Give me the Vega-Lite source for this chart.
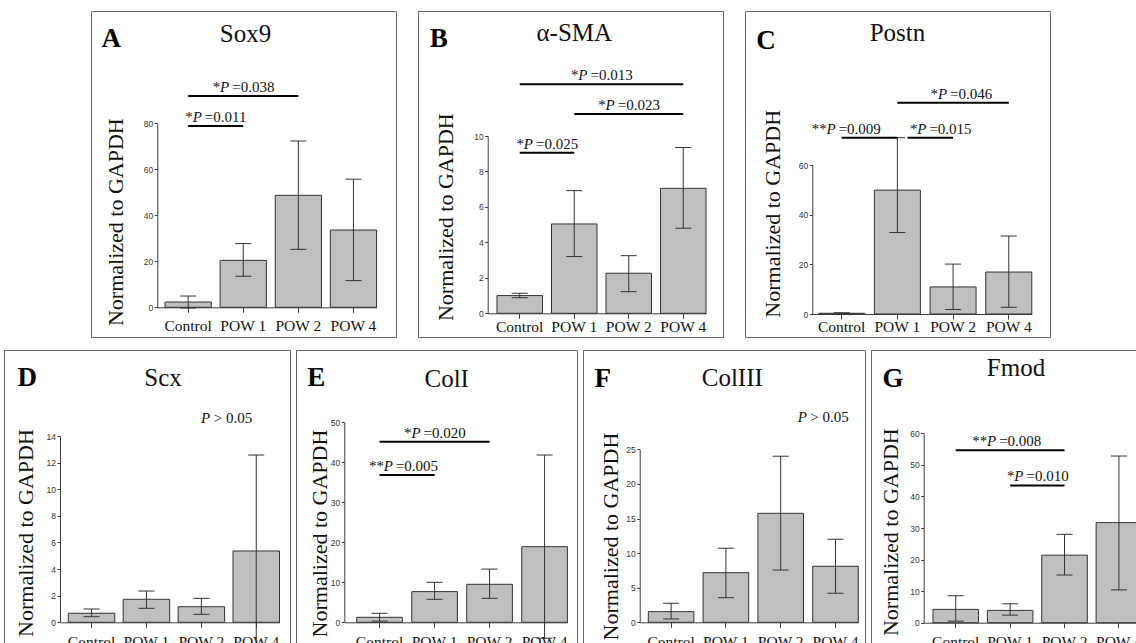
{
 "$schema": "https://vega.github.io/schema/vega-lite/v6.json",
 "background": "white",
 "padding": {"left": 3, "top": 10, "right": -16, "bottom": -8},
 "spacing": 11,
 "datasets": {
  "A_bars": [
   {"group": "Control", "mean": 2.3, "lo": -0.3, "hi": 4.9},
   {"group": "POW 1", "mean": 20.4, "lo": 13.5, "hi": 27.7},
   {"group": "POW 2", "mean": 48.7, "lo": 25.2, "hi": 72.3},
   {"group": "POW 4", "mean": 33.6, "lo": 11.6, "hi": 55.7}
  ],
  "A_notes": [
   {"from": "Control", "to": "POW 2", "level": 91.9, "stars": "*", "ptext": "=0.038", "over": "POW 1"},
   {"from": "Control", "to": "POW 1", "level": 78.8, "stars": "*", "ptext": "=0.011", "after": "Control"}
  ],
  "B_bars": [
   {"group": "Control", "mean": 1.0, "lo": 0.88, "hi": 1.13},
   {"group": "POW 1", "mean": 5.04, "lo": 3.2, "hi": 6.92},
   {"group": "POW 2", "mean": 2.26, "lo": 1.22, "hi": 3.25},
   {"group": "POW 4", "mean": 7.05, "lo": 4.8, "hi": 9.35}
  ],
  "B_notes": [
   {"from": "Control", "to": "POW 4", "level": 12.92, "stars": "*", "ptext": "=0.013", "after": "POW 1"},
   {"from": "POW 1", "to": "POW 4", "level": 11.24, "stars": "*", "ptext": "=0.023", "over": "POW 2"},
   {"from": "Control", "to": "POW 1", "level": 9.06, "stars": "*", "ptext": "=0.025", "after": "Control"}
  ],
  "C_bars": [
   {"group": "Control", "mean": 0.3, "lo": 0.1, "hi": 0.5},
   {"group": "POW 1", "mean": 49.9, "lo": 32.8, "hi": 71.0},
   {"group": "POW 2", "mean": 10.9, "lo": 1.8, "hi": 20.1},
   {"group": "POW 4", "mean": 16.9, "lo": 2.7, "hi": 31.4}
  ],
  "C_notes": [
   {"from": "Control", "to": "POW 1", "level": 71.0, "stars": "**", "ptext": "=0.009", "over": "Control"},
   {"from": "POW 1", "to": "POW 2", "level": 71.0, "stars": "*", "ptext": "=0.015", "after": "POW 1"},
   {"from": "POW 1", "to": "POW 4", "level": 85.1, "stars": "*", "ptext": "=0.046", "over": "POW 2"}
  ],
  "D_bars": [
   {"group": "Control", "mean": 0.68, "lo": 0.42, "hi": 1.0},
   {"group": "POW 1", "mean": 1.73, "lo": 1.05, "hi": 2.35},
   {"group": "POW 2", "mean": 1.17, "lo": 0.6, "hi": 1.8},
   {"group": "POW 4", "mean": 5.36, "lo": -1.85, "hi": 12.57}
  ],
  "D_notes": [{"over": "POW 4", "level": 15.0, "ptext": "> 0.05"}],
  "E_bars": [
   {"group": "Control", "mean": 1.25, "lo": 0.3, "hi": 2.25},
   {"group": "POW 1", "mean": 7.67, "lo": 5.75, "hi": 10.0},
   {"group": "POW 2", "mean": 9.5, "lo": 6.0, "hi": 13.3},
   {"group": "POW 4", "mean": 18.9, "lo": -4.0, "hi": 41.8}
  ],
  "E_notes": [
   {"from": "Control", "to": "POW 2", "level": 45.15, "stars": "*", "ptext": "=0.020", "over": "POW 1"},
   {"from": "Control", "to": "POW 1", "level": 36.8, "stars": "**", "ptext": "=0.005", "after": "Control"}
  ],
  "F_bars": [
   {"group": "Control", "mean": 1.54, "lo": 0.48, "hi": 2.75},
   {"group": "POW 1", "mean": 7.17, "lo": 3.56, "hi": 10.7},
   {"group": "POW 2", "mean": 15.75, "lo": 7.55, "hi": 24.0},
   {"group": "POW 4", "mean": 8.1, "lo": 4.2, "hi": 12.0}
  ],
  "F_notes": [{"over": "POW 4", "level": 28.9, "ptext": "> 0.05"}],
  "G_bars": [
   {"group": "Control", "mean": 4.22, "lo": 0.5, "hi": 8.55},
   {"group": "POW 1", "mean": 3.9, "lo": 2.4, "hi": 6.0},
   {"group": "POW 2", "mean": 21.4, "lo": 15.1, "hi": 28.0},
   {"group": "POW 4", "mean": 31.7, "lo": 10.4, "hi": 52.8}
  ],
  "G_notes": [
   {"from": "Control", "to": "POW 2", "level": 54.6, "stars": "**", "ptext": "=0.008", "over": "POW 1"},
   {"from": "POW 1", "to": "POW 2", "level": 43.5, "stars": "*", "ptext": "=0.010", "after": "POW 1"}
  ]
 },
 "vconcat": [
  {
   "spacing": 20,
   "hconcat": [
    {"width": 66, "height": 326, "view": {"stroke": null}, "data": {"values": []}, "mark": "point"},
    {
     "width": 305, "height": 326,
     "title": {"text": "Sox9", "dx": 2, "offset": -36.3},
     "layer": [
      {"data": {"name": "A_bars"}, "mark": {"type": "bar", "fill": "#bfbfbf", "stroke": "#333", "strokeWidth": 1, "clip": true},
       "encoding": {
        "x": {"field": "group", "type": "nominal", "scale": {"type": "band", "domain": ["Control", "POW 1", "POW 2", "POW 4"], "range": [66.3, 285.6], "paddingInner": 0.16, "paddingOuter": 0.07, "align": 1},
              "axis": {"title": "A", "titleX": 10, "titleY": -260.5, "offset": -29.7, "labelPadding": 17.7}},
        "y": {"field": "mean", "type": "quantitative", "scale": {"domain": [0, 80], "range": [296.3, 112.3], "nice": false, "zero": false},
              "axis": {"title": "Normalized to GAPDH", "values": [0, 20, 40, 60, 80], "offset": -66.3, "titleX": -35, "titleY": 210.7}}}},
      {"data": {"name": "A_bars"}, "mark": {"type": "rule", "color": "#333", "strokeWidth": 1, "clip": true},
       "encoding": {"x": {"field": "group", "type": "nominal"}, "y": {"field": "lo", "type": "quantitative"}, "y2": {"field": "hi"}}},
      {"data": {"name": "A_bars"}, "mark": {"type": "tick", "color": "#333", "thickness": 1, "size": 16, "opacity": 1, "clip": true},
       "encoding": {"x": {"field": "group", "type": "nominal"}, "y": {"field": "hi", "type": "quantitative"}}},
      {"data": {"name": "A_bars"}, "mark": {"type": "tick", "color": "#333", "thickness": 1, "size": 16, "opacity": 1, "clip": true},
       "encoding": {"x": {"field": "group", "type": "nominal"}, "y": {"field": "lo", "type": "quantitative"}}},
      {"data": {"name": "A_notes"}, "mark": {"type": "rule", "color": "#000", "strokeWidth": 2},
       "encoding": {"x": {"field": "from", "type": "nominal"}, "x2": {"field": "to"}, "y": {"field": "level", "type": "quantitative"}}},
      {"data": {"name": "A_notes"}, "transform": [{"filter": "isValid(datum.over)"}], "mark": {"type": "text", "align": "left", "dx": -11, "dy": -4},
       "encoding": {"x": {"field": "over", "type": "nominal"}, "y": {"field": "level", "type": "quantitative"}, "text": {"field": "ptext"}}},
      {"data": {"name": "A_notes"}, "transform": [{"filter": "isValid(datum.over)"}], "mark": {"type": "text", "align": "right", "dx": -14, "dy": -4, "fontStyle": "italic"},
       "encoding": {"x": {"field": "over", "type": "nominal"}, "y": {"field": "level", "type": "quantitative"}, "text": {"value": "P"}}},
      {"data": {"name": "A_notes"}, "transform": [{"filter": "isValid(datum.over)"}], "mark": {"type": "text", "align": "right", "dx": -23, "dy": -4},
       "encoding": {"x": {"field": "over", "type": "nominal"}, "y": {"field": "level", "type": "quantitative"}, "text": {"field": "stars"}}},
      {"data": {"name": "A_notes"}, "transform": [{"filter": "isValid(datum.after)"}], "mark": {"type": "text", "align": "left", "dx": -6.5, "dy": -4},
       "encoding": {"x": {"field": "after", "type": "nominal", "bandPosition": 1}, "y": {"field": "level", "type": "quantitative"}, "text": {"field": "ptext"}}},
      {"data": {"name": "A_notes"}, "transform": [{"filter": "isValid(datum.after)"}], "mark": {"type": "text", "align": "right", "dx": -9.5, "dy": -4, "fontStyle": "italic"},
       "encoding": {"x": {"field": "after", "type": "nominal", "bandPosition": 1}, "y": {"field": "level", "type": "quantitative"}, "text": {"value": "P"}}},
      {"data": {"name": "A_notes"}, "transform": [{"filter": "isValid(datum.after)"}], "mark": {"type": "text", "align": "right", "dx": -18.5, "dy": -4},
       "encoding": {"x": {"field": "after", "type": "nominal", "bandPosition": 1}, "y": {"field": "level", "type": "quantitative"}, "text": {"field": "stars"}}}
     ]
    },
    {
     "width": 305, "height": 326,
     "title": {"text": "α-SMA", "dx": 3.8, "offset": -34.7},
     "layer": [
      {"data": {"name": "B_bars"}, "mark": {"type": "bar", "fill": "#bfbfbf", "stroke": "#333", "strokeWidth": 1, "clip": true},
       "encoding": {
        "x": {"field": "group", "type": "nominal", "scale": {"type": "band", "domain": ["Control", "POW 1", "POW 2", "POW 4"], "range": [69.7, 288], "paddingInner": 0.165, "paddingOuter": 0.085, "align": 1},
              "axis": {"title": "B", "titleX": 11.3, "titleY": -266.5, "offset": -23.7, "labelPadding": 12.7}},
        "y": {"field": "mean", "type": "quantitative", "scale": {"domain": [0, 10], "range": [302.3, 125], "nice": false, "zero": false},
              "axis": {"title": "Normalized to GAPDH", "values": [0, 2, 4, 6, 8, 10], "offset": -69.7, "titleX": -35, "titleY": 205.7}}}},
      {"data": {"name": "B_bars"}, "mark": {"type": "rule", "color": "#333", "strokeWidth": 1, "clip": true},
       "encoding": {"x": {"field": "group", "type": "nominal"}, "y": {"field": "lo", "type": "quantitative"}, "y2": {"field": "hi"}}},
      {"data": {"name": "B_bars"}, "mark": {"type": "tick", "color": "#333", "thickness": 1, "size": 16, "opacity": 1, "clip": true},
       "encoding": {"x": {"field": "group", "type": "nominal"}, "y": {"field": "hi", "type": "quantitative"}}},
      {"data": {"name": "B_bars"}, "mark": {"type": "tick", "color": "#333", "thickness": 1, "size": 16, "opacity": 1, "clip": true},
       "encoding": {"x": {"field": "group", "type": "nominal"}, "y": {"field": "lo", "type": "quantitative"}}},
      {"data": {"name": "B_notes"}, "mark": {"type": "rule", "color": "#000", "strokeWidth": 2},
       "encoding": {"x": {"field": "from", "type": "nominal"}, "x2": {"field": "to"}, "y": {"field": "level", "type": "quantitative"}}},
      {"data": {"name": "B_notes"}, "transform": [{"filter": "isValid(datum.over)"}], "mark": {"type": "text", "align": "left", "dx": -11, "dy": -4},
       "encoding": {"x": {"field": "over", "type": "nominal"}, "y": {"field": "level", "type": "quantitative"}, "text": {"field": "ptext"}}},
      {"data": {"name": "B_notes"}, "transform": [{"filter": "isValid(datum.over)"}], "mark": {"type": "text", "align": "right", "dx": -14, "dy": -4, "fontStyle": "italic"},
       "encoding": {"x": {"field": "over", "type": "nominal"}, "y": {"field": "level", "type": "quantitative"}, "text": {"value": "P"}}},
      {"data": {"name": "B_notes"}, "transform": [{"filter": "isValid(datum.over)"}], "mark": {"type": "text", "align": "right", "dx": -23, "dy": -4},
       "encoding": {"x": {"field": "over", "type": "nominal"}, "y": {"field": "level", "type": "quantitative"}, "text": {"field": "stars"}}},
      {"data": {"name": "B_notes"}, "transform": [{"filter": "isValid(datum.after)"}], "mark": {"type": "text", "align": "left", "dx": -6.5, "dy": -4},
       "encoding": {"x": {"field": "after", "type": "nominal", "bandPosition": 1}, "y": {"field": "level", "type": "quantitative"}, "text": {"field": "ptext"}}},
      {"data": {"name": "B_notes"}, "transform": [{"filter": "isValid(datum.after)"}], "mark": {"type": "text", "align": "right", "dx": -9.5, "dy": -4, "fontStyle": "italic"},
       "encoding": {"x": {"field": "after", "type": "nominal", "bandPosition": 1}, "y": {"field": "level", "type": "quantitative"}, "text": {"value": "P"}}},
      {"data": {"name": "B_notes"}, "transform": [{"filter": "isValid(datum.after)"}], "mark": {"type": "text", "align": "right", "dx": -18.5, "dy": -4},
       "encoding": {"x": {"field": "after", "type": "nominal", "bandPosition": 1}, "y": {"field": "level", "type": "quantitative"}, "text": {"field": "stars"}}}
     ]
    },
    {
     "width": 305, "height": 326,
     "title": {"text": "Postn", "dx": 0, "offset": -34.7},
     "layer": [
      {"data": {"name": "C_bars"}, "mark": {"type": "bar", "fill": "#bfbfbf", "stroke": "#333", "strokeWidth": 1, "clip": true},
       "encoding": {
        "x": {"field": "group", "type": "nominal", "scale": {"type": "band", "domain": ["Control", "POW 1", "POW 2", "POW 4"], "range": [67.3, 286.8], "paddingInner": 0.174, "paddingOuter": 0.057, "align": 1},
              "axis": {"title": "C", "titleX": 10.7, "titleY": -265.5, "offset": -23, "labelPadding": 12.7}},
        "y": {"field": "mean", "type": "quantitative", "scale": {"domain": [0, 60], "range": [303, 154], "nice": false, "zero": false},
              "axis": {"title": "Normalized to GAPDH", "values": [0, 20, 40, 60], "offset": -67.3, "titleX": -33.3, "titleY": 202.3}}}},
      {"data": {"name": "C_bars"}, "mark": {"type": "rule", "color": "#333", "strokeWidth": 1, "clip": true},
       "encoding": {"x": {"field": "group", "type": "nominal"}, "y": {"field": "lo", "type": "quantitative"}, "y2": {"field": "hi"}}},
      {"data": {"name": "C_bars"}, "mark": {"type": "tick", "color": "#333", "thickness": 1, "size": 16, "opacity": 1, "clip": true},
       "encoding": {"x": {"field": "group", "type": "nominal"}, "y": {"field": "hi", "type": "quantitative"}}},
      {"data": {"name": "C_bars"}, "mark": {"type": "tick", "color": "#333", "thickness": 1, "size": 16, "opacity": 1, "clip": true},
       "encoding": {"x": {"field": "group", "type": "nominal"}, "y": {"field": "lo", "type": "quantitative"}}},
      {"data": {"name": "C_notes"}, "transform": [{"filter": "isValid(datum.over)"}], "mark": {"type": "rule", "color": "#000", "strokeWidth": 2},
       "encoding": {"x": {"field": "from", "type": "nominal"}, "x2": {"field": "to"}, "y": {"field": "level", "type": "quantitative"}}},
      {"data": {"name": "C_notes"}, "transform": [{"filter": "isValid(datum.after)"}], "mark": {"type": "rule", "color": "#000", "strokeWidth": 2},
       "encoding": {"x": {"field": "from", "type": "nominal", "bandPosition": 0.72}, "x2": {"field": "to"}, "y": {"field": "level", "type": "quantitative"}}},
      {"data": {"name": "C_notes"}, "transform": [{"filter": "isValid(datum.over)"}], "mark": {"type": "text", "align": "left", "dx": -3, "dy": -4},
       "encoding": {"x": {"field": "over", "type": "nominal"}, "y": {"field": "level", "type": "quantitative"}, "text": {"field": "ptext"}}},
      {"data": {"name": "C_notes"}, "transform": [{"filter": "isValid(datum.over)"}], "mark": {"type": "text", "align": "right", "dx": -6, "dy": -4, "fontStyle": "italic"},
       "encoding": {"x": {"field": "over", "type": "nominal"}, "y": {"field": "level", "type": "quantitative"}, "text": {"value": "P"}}},
      {"data": {"name": "C_notes"}, "transform": [{"filter": "isValid(datum.over)"}], "mark": {"type": "text", "align": "right", "dx": -15, "dy": -4},
       "encoding": {"x": {"field": "over", "type": "nominal"}, "y": {"field": "level", "type": "quantitative"}, "text": {"field": "stars"}}},
      {"data": {"name": "C_notes"}, "transform": [{"filter": "isValid(datum.after)"}], "mark": {"type": "text", "align": "left", "dx": 9, "dy": -4},
       "encoding": {"x": {"field": "after", "type": "nominal", "bandPosition": 1}, "y": {"field": "level", "type": "quantitative"}, "text": {"field": "ptext"}}},
      {"data": {"name": "C_notes"}, "transform": [{"filter": "isValid(datum.after)"}], "mark": {"type": "text", "align": "right", "dx": 6, "dy": -4, "fontStyle": "italic"},
       "encoding": {"x": {"field": "after", "type": "nominal", "bandPosition": 1}, "y": {"field": "level", "type": "quantitative"}, "text": {"value": "P"}}},
      {"data": {"name": "C_notes"}, "transform": [{"filter": "isValid(datum.after)"}], "mark": {"type": "text", "align": "right", "dx": -3, "dy": -4},
       "encoding": {"x": {"field": "after", "type": "nominal", "bandPosition": 1}, "y": {"field": "level", "type": "quantitative"}, "text": {"field": "stars"}}}
     ]
    }
   ]
  },
  {
   "spacing": 4,
   "hconcat": [
    {
     "width": 286, "height": 293,
     "title": {"text": "Scx", "dx": 16, "offset": -40.7},
     "layer": [
      {"data": {"name": "D_bars"}, "mark": {"type": "bar", "fill": "#bfbfbf", "stroke": "#333", "strokeWidth": 1, "clip": true},
       "encoding": {
        "x": {"field": "group", "type": "nominal", "scale": {"type": "band", "domain": ["Control", "POW 1", "POW 2", "POW 4"], "range": [56, 275.5], "paddingInner": 0.153, "paddingOuter": 0.0756, "align": 1},
              "axis": {"title": "D", "titleX": 13, "titleY": -237, "offset": -20.7, "labelPadding": 19}},
        "y": {"field": "mean", "type": "quantitative", "scale": {"domain": [0, 14], "range": [272.3, 86], "nice": false, "zero": false},
              "axis": {"title": "Normalized to GAPDH", "values": [0, 2, 4, 6, 8, 10, 12, 14], "offset": -56, "titleX": -27.7, "titleY": 182.5}}}},
      {"data": {"name": "D_bars"}, "mark": {"type": "rule", "color": "#333", "strokeWidth": 1, "clip": true},
       "encoding": {"x": {"field": "group", "type": "nominal"}, "y": {"field": "lo", "type": "quantitative"}, "y2": {"field": "hi"}}},
      {"data": {"name": "D_bars"}, "mark": {"type": "tick", "color": "#333", "thickness": 1, "size": 16, "opacity": 1, "clip": true},
       "encoding": {"x": {"field": "group", "type": "nominal"}, "y": {"field": "hi", "type": "quantitative"}}},
      {"data": {"name": "D_bars"}, "mark": {"type": "tick", "color": "#333", "thickness": 1, "size": 16, "opacity": 1, "clip": true},
       "encoding": {"x": {"field": "group", "type": "nominal"}, "y": {"field": "lo", "type": "quantitative"}}},
      {"data": {"name": "D_notes"}, "mark": {"type": "text", "align": "left", "dx": -42.4},
       "encoding": {"x": {"field": "over", "type": "nominal"}, "y": {"field": "level", "type": "quantitative"}, "text": {"field": "ptext"}}},
      {"data": {"name": "D_notes"}, "mark": {"type": "text", "align": "right", "dx": -46, "fontStyle": "italic"},
       "encoding": {"x": {"field": "over", "type": "nominal"}, "y": {"field": "level", "type": "quantitative"}, "text": {"value": "P"}}}
     ]
    },
    {
     "width": 281, "height": 293,
     "title": {"text": "ColI", "dx": 10.2, "offset": -42.3},
     "layer": [
      {"data": {"name": "E_bars"}, "mark": {"type": "bar", "fill": "#bfbfbf", "stroke": "#333", "strokeWidth": 1, "clip": true},
       "encoding": {
        "x": {"field": "group", "type": "nominal", "scale": {"type": "band", "domain": ["Control", "POW 1", "POW 2", "POW 4"], "range": [48.3, 271.4], "paddingInner": 0.17, "paddingOuter": 0.113, "align": 1},
              "axis": {"title": "E", "titleX": 10.7, "titleY": -237, "offset": -20.7, "labelPadding": 19}},
        "y": {"field": "mean", "type": "quantitative", "scale": {"domain": [0, 50], "range": [272.3, 72.3], "nice": false, "zero": false},
              "axis": {"title": "Normalized to GAPDH", "values": [0, 10, 20, 30, 40, 50], "offset": -48.3, "titleX": -17.6, "titleY": 183}}}},
      {"data": {"name": "E_bars"}, "mark": {"type": "rule", "color": "#333", "strokeWidth": 1, "clip": true},
       "encoding": {"x": {"field": "group", "type": "nominal"}, "y": {"field": "lo", "type": "quantitative"}, "y2": {"field": "hi"}}},
      {"data": {"name": "E_bars"}, "mark": {"type": "tick", "color": "#333", "thickness": 1, "size": 16, "opacity": 1, "clip": true},
       "encoding": {"x": {"field": "group", "type": "nominal"}, "y": {"field": "hi", "type": "quantitative"}}},
      {"data": {"name": "E_bars"}, "mark": {"type": "tick", "color": "#333", "thickness": 1, "size": 16, "opacity": 1, "clip": true},
       "encoding": {"x": {"field": "group", "type": "nominal"}, "y": {"field": "lo", "type": "quantitative"}}},
      {"data": {"name": "E_notes"}, "mark": {"type": "rule", "color": "#000", "strokeWidth": 2},
       "encoding": {"x": {"field": "from", "type": "nominal"}, "x2": {"field": "to"}, "y": {"field": "level", "type": "quantitative"}}},
      {"data": {"name": "E_notes"}, "transform": [{"filter": "isValid(datum.over)"}], "mark": {"type": "text", "align": "left", "dx": -11, "dy": -4},
       "encoding": {"x": {"field": "over", "type": "nominal"}, "y": {"field": "level", "type": "quantitative"}, "text": {"field": "ptext"}}},
      {"data": {"name": "E_notes"}, "transform": [{"filter": "isValid(datum.over)"}], "mark": {"type": "text", "align": "right", "dx": -14, "dy": -4, "fontStyle": "italic"},
       "encoding": {"x": {"field": "over", "type": "nominal"}, "y": {"field": "level", "type": "quantitative"}, "text": {"value": "P"}}},
      {"data": {"name": "E_notes"}, "transform": [{"filter": "isValid(datum.over)"}], "mark": {"type": "text", "align": "right", "dx": -23, "dy": -4},
       "encoding": {"x": {"field": "over", "type": "nominal"}, "y": {"field": "level", "type": "quantitative"}, "text": {"field": "stars"}}},
      {"data": {"name": "E_notes"}, "transform": [{"filter": "isValid(datum.after)"}], "mark": {"type": "text", "align": "left", "dx": -6.5, "dy": -4},
       "encoding": {"x": {"field": "after", "type": "nominal", "bandPosition": 1}, "y": {"field": "level", "type": "quantitative"}, "text": {"field": "ptext"}}},
      {"data": {"name": "E_notes"}, "transform": [{"filter": "isValid(datum.after)"}], "mark": {"type": "text", "align": "right", "dx": -9.5, "dy": -4, "fontStyle": "italic"},
       "encoding": {"x": {"field": "after", "type": "nominal", "bandPosition": 1}, "y": {"field": "level", "type": "quantitative"}, "text": {"value": "P"}}},
      {"data": {"name": "E_notes"}, "transform": [{"filter": "isValid(datum.after)"}], "mark": {"type": "text", "align": "right", "dx": -18.5, "dy": -4},
       "encoding": {"x": {"field": "after", "type": "nominal", "bandPosition": 1}, "y": {"field": "level", "type": "quantitative"}, "text": {"field": "stars"}}}
     ]
    },
    {
     "width": 282, "height": 293,
     "title": {"text": "ColIII", "dx": 8.3, "offset": -40.7},
     "layer": [
      {"data": {"name": "F_bars"}, "mark": {"type": "bar", "fill": "#bfbfbf", "stroke": "#333", "strokeWidth": 1, "clip": true},
       "encoding": {
        "x": {"field": "group", "type": "nominal", "scale": {"type": "band", "domain": ["Control", "POW 1", "POW 2", "POW 4"], "range": [56.7, 275.3], "paddingInner": 0.168, "paddingOuter": 0.0785, "align": 1},
              "axis": {"title": "F", "titleX": 11, "titleY": -236, "offset": -20.7, "labelPadding": 19}},
        "y": {"field": "mean", "type": "quantitative", "scale": {"domain": [0, 25], "range": [272.3, 99.3], "nice": false, "zero": false},
              "axis": {"title": "Normalized to GAPDH", "values": [0, 5, 10, 15, 20, 25], "offset": -56.7, "titleX": -22.7, "titleY": 186}}}},
      {"data": {"name": "F_bars"}, "mark": {"type": "rule", "color": "#333", "strokeWidth": 1, "clip": true},
       "encoding": {"x": {"field": "group", "type": "nominal"}, "y": {"field": "lo", "type": "quantitative"}, "y2": {"field": "hi"}}},
      {"data": {"name": "F_bars"}, "mark": {"type": "tick", "color": "#333", "thickness": 1, "size": 16, "opacity": 1, "clip": true},
       "encoding": {"x": {"field": "group", "type": "nominal"}, "y": {"field": "hi", "type": "quantitative"}}},
      {"data": {"name": "F_bars"}, "mark": {"type": "tick", "color": "#333", "thickness": 1, "size": 16, "opacity": 1, "clip": true},
       "encoding": {"x": {"field": "group", "type": "nominal"}, "y": {"field": "lo", "type": "quantitative"}}},
      {"data": {"name": "F_notes"}, "mark": {"type": "text", "align": "left", "dx": -25.2},
       "encoding": {"x": {"field": "over", "type": "nominal"}, "y": {"field": "level", "type": "quantitative"}, "text": {"field": "ptext"}}},
      {"data": {"name": "F_notes"}, "mark": {"type": "text", "align": "right", "dx": -28.7, "fontStyle": "italic"},
       "encoding": {"x": {"field": "over", "type": "nominal"}, "y": {"field": "level", "type": "quantitative"}, "text": {"value": "P"}}}
     ]
    },
    {
     "width": 282, "height": 293,
     "title": {"text": "Fmod", "dx": 4, "offset": -30.7},
     "layer": [
      {"data": {"name": "G_bars"}, "mark": {"type": "bar", "fill": "#bfbfbf", "stroke": "#333", "strokeWidth": 1, "clip": true},
       "encoding": {
        "x": {"field": "group", "type": "nominal", "scale": {"type": "band", "domain": ["Control", "POW 1", "POW 2", "POW 4"], "range": [52.7, 270.7], "paddingInner": 0.162, "paddingOuter": 0.085, "align": 1},
              "axis": {"title": "G", "titleX": 11, "titleY": -235.8, "offset": -20.3, "labelPadding": 19}},
        "y": {"field": "mean", "type": "quantitative", "scale": {"domain": [0, 60], "range": [272.7, 83.3], "nice": false, "zero": false},
              "axis": {"title": "Normalized to GAPDH", "values": [0, 10, 20, 30, 40, 50, 60], "offset": -52.7, "titleX": -26.7, "titleY": 181.7}}}},
      {"data": {"name": "G_bars"}, "mark": {"type": "rule", "color": "#333", "strokeWidth": 1, "clip": true},
       "encoding": {"x": {"field": "group", "type": "nominal"}, "y": {"field": "lo", "type": "quantitative"}, "y2": {"field": "hi"}}},
      {"data": {"name": "G_bars"}, "mark": {"type": "tick", "color": "#333", "thickness": 1, "size": 16, "opacity": 1, "clip": true},
       "encoding": {"x": {"field": "group", "type": "nominal"}, "y": {"field": "hi", "type": "quantitative"}}},
      {"data": {"name": "G_bars"}, "mark": {"type": "tick", "color": "#333", "thickness": 1, "size": 16, "opacity": 1, "clip": true},
       "encoding": {"x": {"field": "group", "type": "nominal"}, "y": {"field": "lo", "type": "quantitative"}}},
      {"data": {"name": "G_notes"}, "mark": {"type": "rule", "color": "#000", "strokeWidth": 2},
       "encoding": {"x": {"field": "from", "type": "nominal"}, "x2": {"field": "to"}, "y": {"field": "level", "type": "quantitative"}}},
      {"data": {"name": "G_notes"}, "transform": [{"filter": "isValid(datum.over)"}], "mark": {"type": "text", "align": "left", "dx": -11, "dy": -4},
       "encoding": {"x": {"field": "over", "type": "nominal"}, "y": {"field": "level", "type": "quantitative"}, "text": {"field": "ptext"}}},
      {"data": {"name": "G_notes"}, "transform": [{"filter": "isValid(datum.over)"}], "mark": {"type": "text", "align": "right", "dx": -14, "dy": -4, "fontStyle": "italic"},
       "encoding": {"x": {"field": "over", "type": "nominal"}, "y": {"field": "level", "type": "quantitative"}, "text": {"value": "P"}}},
      {"data": {"name": "G_notes"}, "transform": [{"filter": "isValid(datum.over)"}], "mark": {"type": "text", "align": "right", "dx": -23, "dy": -4},
       "encoding": {"x": {"field": "over", "type": "nominal"}, "y": {"field": "level", "type": "quantitative"}, "text": {"field": "stars"}}},
      {"data": {"name": "G_notes"}, "transform": [{"filter": "isValid(datum.after)"}], "mark": {"type": "text", "align": "left", "dx": -6.5, "dy": -4},
       "encoding": {"x": {"field": "after", "type": "nominal", "bandPosition": 1}, "y": {"field": "level", "type": "quantitative"}, "text": {"field": "ptext"}}},
      {"data": {"name": "G_notes"}, "transform": [{"filter": "isValid(datum.after)"}], "mark": {"type": "text", "align": "right", "dx": -9.5, "dy": -4, "fontStyle": "italic"},
       "encoding": {"x": {"field": "after", "type": "nominal", "bandPosition": 1}, "y": {"field": "level", "type": "quantitative"}, "text": {"value": "P"}}},
      {"data": {"name": "G_notes"}, "transform": [{"filter": "isValid(datum.after)"}], "mark": {"type": "text", "align": "right", "dx": -18.5, "dy": -4},
       "encoding": {"x": {"field": "after", "type": "nominal", "bandPosition": 1}, "y": {"field": "level", "type": "quantitative"}, "text": {"field": "stars"}}}
     ]
    }
   ]
  }
 ],
 "config": {
  "font": "Times New Roman, serif",
  "view": {"stroke": "#666", "strokeWidth": 1},
  "axis": {"grid": false, "domainColor": "#3c3c3c", "tickColor": "#3c3c3c", "domainWidth": 1, "tickWidth": 1},
  "axisX": {"labelFont": "Times New Roman, serif", "labelFontSize": 15.5, "labelColor": "#111", "labelAngle": 0, "labelBaseline": "alphabetic", "labelOverlap": false, "labelLimit": 0, "tickSize": 5,
            "titleFont": "Times New Roman, serif", "titleFontSize": 27, "titleFontWeight": "bold", "titleColor": "#000", "titleAlign": "left", "titleBaseline": "alphabetic", "titleAngle": 0, "titlePadding": 0},
  "axisY": {"labelFont": "Arial, sans-serif", "labelFontSize": 8.5, "labelColor": "#333", "labelPadding": 1.5, "tickSize": 3,
            "titleFont": "Times New Roman, serif", "titleFontSize": 22, "titleFontWeight": "normal", "titleColor": "#111", "titleAlign": "center", "titleBaseline": "alphabetic", "titleAngle": 270},
  "title": {"font": "Times New Roman, serif", "fontSize": 25, "fontWeight": "normal", "color": "#111", "anchor": "middle", "frame": "group", "baseline": "alphabetic"},
  "text": {"font": "Times New Roman, serif", "fontSize": 15, "color": "#111", "baseline": "alphabetic"}
 }
}
